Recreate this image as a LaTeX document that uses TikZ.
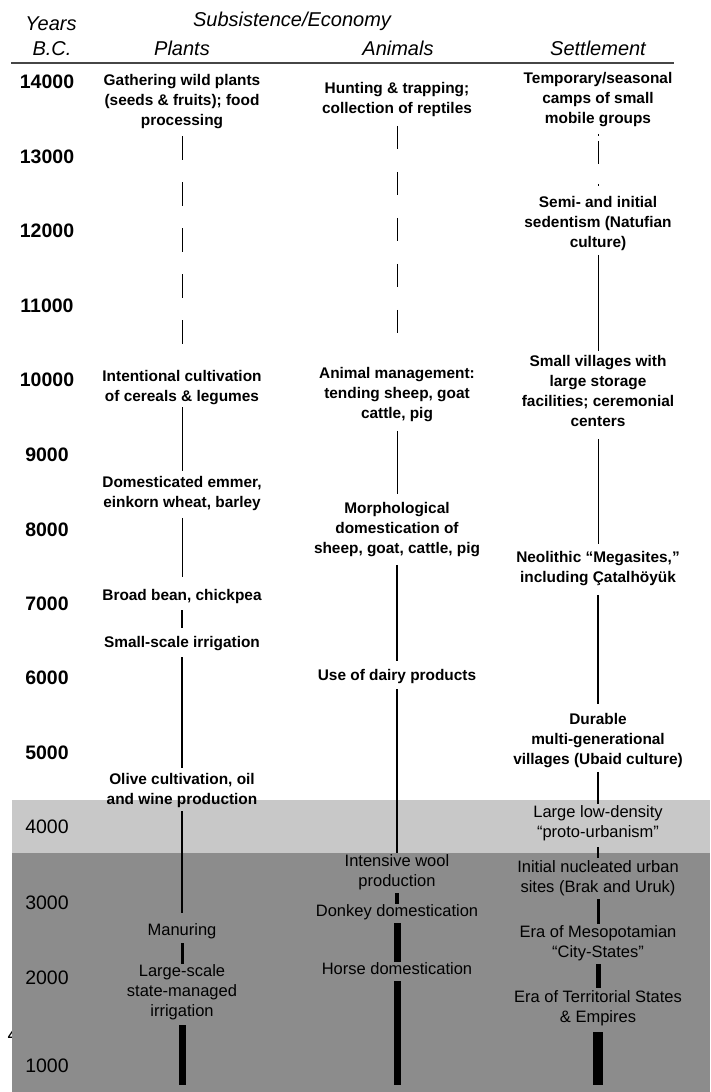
\documentclass[tikz,border=0pt]{standalone}
\usepackage{fontspec}
\setmainfont{Liberation Sans}
\definecolor{lightband}{HTML}{C8C8C8}
\definecolor{darkband}{HTML}{8C8C8C}
\newcommand{\boldtxt}{\fontsize{15.4}{20}\selectfont\bfseries}
\newcommand{\plaintxt}{\fontsize{16.5}{20}\selectfont}
\newcommand{\yearbold}{\fontsize{19.5}{22}\selectfont\bfseries}
\newcommand{\yearplain}{\fontsize{19.5}{22}\selectfont}
\newcommand{\headtxt}{\fontsize{20}{24}\selectfont\itshape}
\begin{document}
\begin{tikzpicture}[x=1pt, y=-1pt,
    evbold/.style={align=center, inner sep=0pt, font=\boldtxt,
      execute at begin node=\strut, execute at end node=\strut},
    evplain/.style={evbold, font=\plaintxt},
    yrbold/.style={anchor=base, inner sep=0pt, font=\yearbold},
    yrplain/.style={yrbold, font=\yearplain},
    headlbl/.style={anchor=base, inner sep=0pt, font=\headtxt},
    dashes/.style={line width=1pt, dash pattern=on 23.5pt off 22.5pt}]
    \useasboundingbox (0,0) rectangle (710,1092);
    % stray digit half hidden by the band
    \node [yrplain, anchor=base west] (stray) at (7.5,1041.8) {4};
    \fill [lightband] (12,800) rectangle (710,853);
    \fill [darkband] (12,853) rectangle (710,1092);

    \node [headlbl] (yearsHd) at (51,30.2) {Years};
    \node [headlbl] (bcHd) at (52,55.2) {B.C.};
    \node [headlbl] (econHd) at (292,26.2) {Subsistence/Economy};
    \node [headlbl] (plantsHd) at (182,55.2) {Plants};
    \node [headlbl] (animalsHd) at (398,55.2) {Animals};
    \node [headlbl] (settleHd) at (598,55.2) {Settlement};
    \draw [gray!55!black, line width=1.3pt] (11,63) -- (674,63);

    \foreach \yv/\lab in {81/14000, 156/13000, 230/12000, 305/11000, 379/10000,
        454/9000, 529/8000, 603/7000, 677/6000, 752/5000}
      \node [yrbold] (y\lab) at (47,\yv+7) {\lab};
    \foreach \yv/\lab in {826/4000, 902/3000, 977/2000, 1065/1000}
      \node [yrplain] (y\lab) at (47,\yv+7) {\lab};

    % plants
    \node [evbold] (p1) at (182,103) {Gathering wild plants\\(seeds \& fruits); food\\processing};
    \node [evbold] (p2) at (182,388.5) {Intentional cultivation\\of cereals \& legumes};
    \node [evbold] (p3) at (182,494.5) {Domesticated emmer,\\einkorn wheat, barley};
    \node [evbold] (p4) at (182,596.5) {Broad bean, chickpea};
    \node [evbold] (p5) at (182,643.5) {Small-scale irrigation};
    \node [evbold] (p6) at (182,792) {Olive cultivation, oil\\and wine production};
    \node [evplain] (p7) at (182,931.9) {Manuring};
    \node [evplain] (p8) at (182,993.9) {Large-scale\\state-managed\\irrigation};
    \coordinate (pEnd) at (182,1085);
    \draw [dashes, shorten <=4.5pt, shorten >=22.5pt] (p1) -- (p2);
    \draw [line width=1pt, shorten >=4.5pt] (p2) -- (p3);
    \draw [line width=1pt, shorten <=4.5pt, shorten >=9.5pt] (p3) -- (p4);
    \draw [line width=2pt, shorten <=3.5pt, shorten >=5.5pt] (p4) -- (p5);
    \draw [line width=2pt, shorten <=3.5pt, shorten >=5.5pt] (p5) -- (p6);
    \draw [line width=2pt, shorten <=0.5pt, shorten >=8.9pt] (p6) -- (p7);
    \draw [line width=3pt, shorten <=1pt, shorten >=0.9pt] (p7) -- (p8);
    \draw [line width=7pt, shorten <=2pt] (p8) -- (pEnd);

    % animals
    \node [evbold] (a1) at (397,101) {Hunting \& trapping;\\collection of reptiles};
    \node [evbold] (a2) at (397,396) {Animal management:\\tending sheep, goat\\cattle, pig};
    \node [evbold] (a3) at (397,531) {Morphological\\domestication of\\sheep, goat, cattle, pig};
    \node [evbold] (a4) at (397,676.5) {Use of dairy products};
    \node [evplain] (a5) at (397,873.9) {Intensive wool\\production};
    \node [evplain] (a6) at (397,912.9) {Donkey domestication};
    \node [evplain] (a7) at (397,970.9) {Horse domestication};
    \coordinate (aEnd) at (397,1085);
    \draw [dashes, shorten <=6pt, shorten >=31pt] (a1) -- (a2);
    \draw [line width=1pt, shorten <=6pt, shorten >=8pt] (a2) -- (a3);
    \draw [line width=2pt, shorten <=5pt, shorten >=5.5pt] (a3) -- (a4);
    \draw [line width=2pt, shorten <=2.5pt, shorten >=1.9pt] (a4) -- (a5);
    \draw [line width=3.5pt, shorten >=-1pt] (a5) -- (a6);
    \draw [line width=7pt, shorten >=-1pt] (a6) -- (a7);
    \draw [line width=7pt] (a7) -- (aEnd);

    % settlement
    \node [evbold] (s1) at (598,101) {Temporary/seasonal\\camps of small\\mobile groups};
    \node [evbold] (s2) at (598,225) {Semi- and initial\\sedentism (Natufian\\culture)};
    \node [evbold] (s3) at (598,393.5) {Small villages with\\large storage\\facilities; ceremonial\\centers};
    \node [evbold] (s4) at (598,569.5) {Neolithic “Megasites,”\\including Çatalhöyük};
    \node [evbold] (s5) at (598,741.5) {Durable\\multi-generational\\villages (Ubaid culture)};
    \node [evplain] (s6) at (598,824.9) {Large low-density\\“proto-urbanism”};
    \node [evplain] (s7) at (598,879.9) {Initial nucleated urban\\sites (Brak and Uruk)};
    \node [evplain] (s8) at (598,944.9) {Era of Mesopotamian\\“City-States”};
    \node [evplain] (s9) at (598,1009.9) {Era of Territorial States\\\& Empires};
    \coordinate (sEnd) at (598,1085);
    \draw [line width=1pt, dash pattern=on 2pt off 5pt on 23pt off 20pt,
      shorten <=4pt, shorten >=8pt] (s1) -- (s2);
    \draw [line width=1pt, shorten <=1pt, shorten >=3.5pt] (s2) -- (s3);
    \draw [line width=1pt, shorten <=6.5pt, shorten >=6.5pt] (s3) -- (s4);
    \draw [line width=2pt, shorten <=6.5pt, shorten >=8.5pt] (s4) -- (s5);
    \draw [line width=2pt, shorten <=1.5pt, shorten >=1.9pt] (s5) -- (s6);
    \draw [line width=2pt, shorten <=3pt, shorten >=2.9pt] (s6) -- (s7);
    \draw [line width=3pt, shorten >=1.9pt] (s7) -- (s8);
    \draw [line width=5pt, shorten >=2.9pt] (s8) -- (s9);
    \draw [line width=10pt, shorten <=3pt] (s9) -- (sEnd);
\end{tikzpicture}
\end{document}
